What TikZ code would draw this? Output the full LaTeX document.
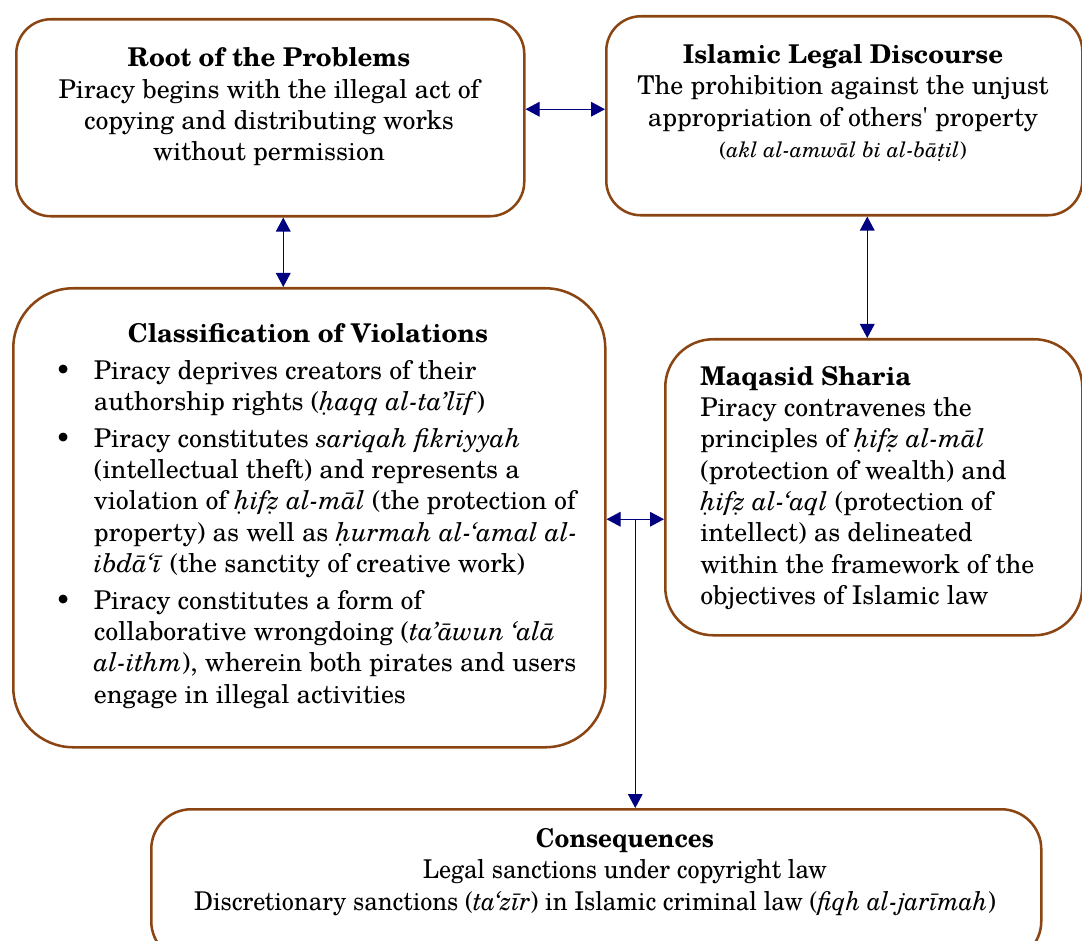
\documentclass[tikz,border=0pt]{standalone}
\usepackage{fontspec}
\setmainfont{TeX Gyre Schola}
\usetikzlibrary{arrows.meta,positioning,calc}
\definecolor{boxbrown}{RGB}{139,69,19}
\definecolor{linknavy}{RGB}{0,0,128}

\begin{document}
\begin{tikzpicture}[x=0.75pt,y=-0.75pt,
    panel/.style={draw=boxbrown, line width=1.9pt, rounded corners=#1, inner sep=0pt, anchor=north west},
    panel/.default=26pt,
    body/.style={font=\fontsize{19.4}{23.5}\selectfont, inner sep=0pt},
    link/.style={linknavy, line width=0.8pt, {Triangle[length=10.5pt,width=11pt]}-{Triangle[length=10.5pt,width=11pt]}},
    linkend/.style={linknavy, line width=0.8pt, -{Triangle[length=10.5pt,width=11pt]}}]
    \useasboundingbox (0,0) rectangle (1082,941);

    % --- boxes ---
    \node[panel, minimum width=381pt, minimum height=147.75pt] (root) at (15,18) {};
    \node[panel, minimum width=357pt, minimum height=149.25pt] (discourse) at (605,15) {};
    \node[panel=45pt, minimum width=444pt, minimum height=344.25pt] (violation) at (12,287) {};
    \node[panel=36pt, minimum width=312.75pt, minimum height=222pt] (maqasid) at (664,338) {};
    \node[panel=30pt, minimum width=667.5pt, minimum height=114pt] (conseq) at (150,808) {};

    % --- texts ---
    \node[body, align=center] (roottext) at (269,107) {\textbf{Root of the Problems}\\
        Piracy begins with the illegal act of\\
        copying and distributing works\\
        without permission};
    \node[body, align=center] (discoursetext) at (843,103) {\textbf{Islamic Legal Discourse}\\
        The prohibition against the unjust\\
        appropriation of others\textquotesingle{} property\\
        {\fontsize{16}{23.5}\selectfont(\textit{akl al-amwāl bi al-bāṭil})}};
    \node[body, align=center] (violtitle) at (308,333) {\textbf{Classification of Violations}};
    \node[body, anchor=north west] (violtext) at (55,357) {%
        \begin{tabular}{@{}p{29pt}@{}l@{}}
        \textbullet & Piracy deprives creators of their\\
            & authorship rights (\textit{ḥaqq al-ta’līf})\\[4pt]
        \textbullet & Piracy constitutes \textit{sariqah fikriyyah}\\
            & (intellectual theft) and represents a\\
            & violation of \textit{ḥifẓ al-māl} (the protection of\\
            & property) as well as \textit{ḥurmah al-‘amal al-}\\
            & \textit{ibdā‘ī} (the sanctity of creative work)\\[4pt]
        \textbullet & Piracy constitutes a form of\\
            & collaborative wrongdoing (\textit{ta’āwun ‘alā}\\
            & \textit{al-ithm}), wherein both pirates and users\\
            & engage in illegal activities
        \end{tabular}};
    \node[body, align=left, anchor=north west] (maqasidtext) at (700,366) {\textbf{Maqasid Sharia}\\
        Piracy contravenes the\\
        principles of \textit{ḥifẓ al-māl}\\
        (protection of wealth) and\\
        \textit{ḥifẓ al-‘aql} (protection of\\
        intellect) as delineated\\
        within the framework of the\\
        objectives of Islamic law};
    \node[body, align=center, xscale=0.935] (conseqtext) at (595,872) {\hspace*{48pt}\textbf{Consequences}\\
        \hspace*{48pt}Legal sanctions under copyright law\\
        Discretionary sanctions (\textit{ta‘zīr}) in Islamic criminal law (\textit{fiqh al-jarīmah})};

    % --- connectors ---
    \draw[link] ([yshift=6.4pt]root.east) -- ([yshift=6.4pt]root.east -| discourse.west);
    \draw[link] ([xshift=9.75pt]root.south) -- ([xshift=9.75pt]root.south |- violation.north);
    \draw[link] ([xshift=17.25pt]discourse.south) -- ([xshift=17.25pt]discourse.south |- maqasid.north);
    \draw[link] ([yshift=-1.1pt]violation.east) coordinate (vleft)
        -- (vleft -| maqasid.west) coordinate (vright);
    \coordinate (junct) at ($(vleft)!0.5!(vright)$);
    \draw[linkend] (junct) -- (junct |- conseq.north);
\end{tikzpicture}
\end{document}
